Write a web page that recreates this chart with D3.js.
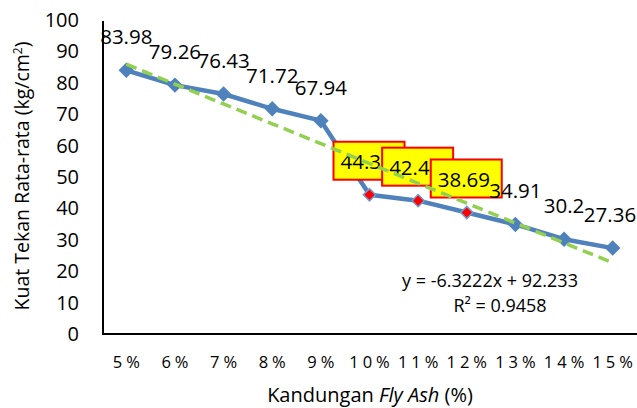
<!DOCTYPE html>
<html>
<head>
<meta charset="utf-8">
<script src="https://cdn.jsdelivr.net/npm/d3@7"></script>
<style>
  html, body { margin: 0; padding: 0; background: #fff; }
  svg { display: block; font-family: "Open Sans", sans-serif; }
</style>
</head>
<body>
<svg id="chart" width="637" height="408"></svg>
<script>
const categories = ["5%", "6%", "7%", "8%", "9%", "10%", "11%", "12%", "13%", "14%", "15%"];
const values = [83.98, 79.26, 76.43, 71.72, 67.94, 44.35, 42.46, 38.69, 34.91, 30.2, 27.36];
const highlighted = [5, 6, 7];
const yTicks = [0, 10, 20, 30, 40, 50, 60, 70, 80, 90, 100];
const trendSlope = -6.3222, trendIntercept = 92.233;
const trendLabel = "y = -6.3222x + 92.233";
const r2Label = "R² = 0.9458";

const svg = d3.select("#chart");
const W = 637;
const x = d3.scaleBand().domain(categories).range([102, 637]);
const y = d3.scaleLinear().domain([0, 100]).range([334, 20]);
const cx = c => x(c) + x.bandwidth() / 2;

// Y tick labels
svg.append("g").selectAll("text").data(yTicks).join("text")
  .attr("x", 79).attr("y", d => y(d) + 7)
  .attr("text-anchor", "end").attr("font-size", 20).attr("fill", "#000")
  .text(d => d);

// axes lines
svg.append("line").attr("x1", 103).attr("x2", 103).attr("y1", 21).attr("y2", 335)
  .attr("stroke", "#000").attr("stroke-width", 2);
svg.append("line").attr("x1", 102).attr("x2", 637).attr("y1", 334).attr("y2", 334)
  .attr("stroke", "#000").attr("stroke-width", 2);

// X tick labels
svg.append("g").selectAll("text").data(categories).join("text")
  .attr("x", d => cx(d) + 2).attr("y", 368)
  .attr("text-anchor", "middle").attr("font-size", 16.5).attr("letter-spacing", 4)
  .attr("fill", "#000").text(d => d);

// Axis titles
const yt = svg.append("text")
  .attr("transform", "translate(29,176) rotate(-90)")
  .attr("text-anchor", "middle").attr("font-size", 19.5).attr("fill", "#000");
yt.append("tspan").text("Kuat Tekan Rata-rata (kg/cm");
yt.append("tspan").attr("font-size", 12).attr("dy", -7).text("2");
yt.append("tspan").attr("dy", 7).text(")");

const xt = svg.append("text").attr("x", 370).attr("y", 402)
  .attr("text-anchor", "middle").attr("font-size", 20).attr("fill", "#000");
xt.append("tspan").text("Kandungan ");
xt.append("tspan").attr("font-style", "italic").text("Fly Ash");
xt.append("tspan").text(" (%)");

// Series line
const line = d3.line().x((d, i) => cx(categories[i])).y(d => y(d));
svg.append("path").datum(values).attr("d", line)
  .attr("fill", "none").attr("stroke", "#4F81BD").attr("stroke-width", 4.5)
  .attr("stroke-linejoin", "round");

// Markers
svg.append("g").selectAll("path").data(values).join("path")
  .attr("d", (d, i) => highlighted.includes(i)
      ? d3.symbol().type(d3.symbolSquare).size(75)()
      : d3.symbol().type(d3.symbolSquare).size(120)())
  .attr("transform", (d, i) => `translate(${cx(categories[i])},${y(d)}) rotate(45)`)
  .attr("fill", (d, i) => highlighted.includes(i) ? "#FF0000" : "#4F81BD")
  .attr("stroke", "#6F9BD0").attr("stroke-width", (d, i) => highlighted.includes(i) ? 1.5 : 0);

// Highlighted boxed labels
highlighted.forEach(i => {
  const px = cx(categories[i]), py = y(values[i]);
  const g = svg.append("g");
  g.append("rect").attr("x", px - 36).attr("y", py - 53).attr("width", 71).attr("height", 38)
    .attr("fill", "#FFFF00").attr("stroke", "#FF0000").attr("stroke-width", 2);
  g.append("text").attr("x", px - 29).attr("y", py - 26)
    .attr("font-size", 20.5).attr("fill", "#000").text(values[i]);
});

// Normal data labels
svg.append("g").selectAll("text")
  .data(values.map((v, i) => ({ v, i })).filter(d => !highlighted.includes(d.i)))
  .join("text")
  .attr("x", d => Math.min(cx(categories[d.i]), W - 27)).attr("y", d => y(d.v) - 26)
  .attr("text-anchor", "middle").attr("font-size", 20.5).attr("fill", "#000")
  .text(d => d.v);

// Trendline
const trend = categories.map((c, i) => trendSlope * (i + 1) + trendIntercept);
svg.append("path").datum(trend).attr("d", line)
  .attr("fill", "none").attr("stroke", "#92D050").attr("stroke-width", 3.5)
  .attr("stroke-dasharray", "11,6");

// Trend equation
svg.append("text").attr("x", 490).attr("y", 287).attr("text-anchor", "middle")
  .attr("font-size", 18).attr("fill", "#000").text(trendLabel);
svg.append("text").attr("x", 500).attr("y", 312).attr("text-anchor", "middle")
  .attr("font-size", 18).attr("fill", "#000").text(r2Label);
</script>
</body>
</html>
